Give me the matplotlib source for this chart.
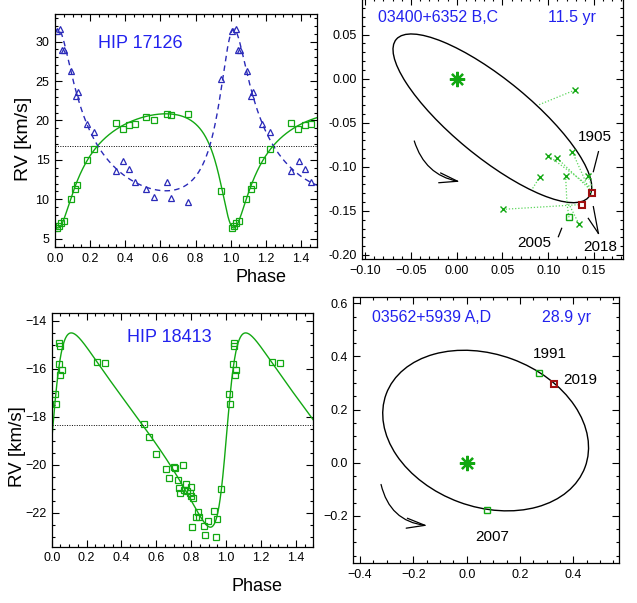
import numpy as np
import matplotlib
matplotlib.use('Agg')
import matplotlib.pyplot as plt
from matplotlib.patches import Ellipse, FancyArrowPatch
from matplotlib.ticker import MultipleLocator, FuncFormatter

plt.rcParams['font.family'] = ['Liberation Sans', 'DejaVu Sans']

# ---------------- HIP 17126 (double-lined) ----------------
hip1_phase_a = [0.01, 0.02, 0.033, 0.05, 0.089, 0.114, 0.127, 0.18, 0.223, 0.345,
                0.386, 0.424, 0.455, 0.519, 0.566, 0.64, 0.661, 0.758, 0.947]
hip1_rv_a = [6.4, 6.65, 6.95, 7.3, 10.0, 11.35, 11.8, 15.0, 16.4, 19.7,
             18.9, 19.4, 19.55, 20.4, 20.0, 20.8, 20.7, 20.8, 11.0]
hip1_phase_b = [0.01, 0.028, 0.04, 0.053, 0.091, 0.117, 0.129, 0.18, 0.223, 0.345,
                0.388, 0.424, 0.455, 0.519, 0.566, 0.64, 0.661, 0.758, 0.947]
hip1_rv_b = [31.4, 31.6, 28.95, 28.9, 26.25, 23.1, 23.6, 19.55, 18.5, 13.65,
             14.8, 13.9, 12.25, 11.3, 10.25, 12.15, 10.2, 9.6, 25.2]
hip1_V0 = 16.8
hip1_K1 = 7.24
hip1_K2 = 10.25
hip1_e = 0.47
hip1_omega = 160.0
hip1_T0 = 0.0

# ---------------- HIP 18413 (single-lined) ----------------
hip2_phase = [0.019, 0.023, 0.042, 0.044, 0.048, 0.050, 0.057, 0.262, 0.308, 0.530,
              0.560, 0.597, 0.654, 0.673, 0.702, 0.705, 0.723, 0.732, 0.738, 0.755,
              0.761, 0.769, 0.776, 0.792, 0.797, 0.801, 0.811, 0.803, 0.828, 0.837,
              0.843, 0.874, 0.878, 0.895, 0.933, 0.941, 0.948, 0.969]
hip2_rv = [-17.07, -17.49, -15.81, -14.94, -15.06, -16.26, -16.06, -15.72, -15.78, -18.31,
           -18.86, -19.56, -20.18, -20.57, -20.08, -20.15, -20.65, -20.99, -21.19, -20.0,
           -21.06, -20.82, -21.08, -21.19, -20.94, -21.29, -21.40, -22.61, -22.17, -21.96,
           -22.17, -22.57, -22.93, -22.35, -21.92, -23.0, -22.28, -21.03]
hip2_V0 = -18.35
hip2_K = 4.05
hip2_e = 0.49
hip2_omega = 264.0
hip2_T0 = 0.0

# ---------------- 03400+6352 B,C orbit ----------------
orb1_center = (0.039, -0.045)
orb1_axes = (0.276, 0.087)
orb1_angle = -40.6
orb1_obs_x = [0.1293, 0.1001, 0.1100, 0.1263, 0.1431, 0.1190, 0.0910, 0.0502, 0.1336]
orb1_obs_y = [-0.0129, -0.0874, -0.0904, -0.0829, -0.1100, -0.1100, -0.1112, -0.1483, -0.1649]
orb1_calc_x = [0.0892, 0.1457, 0.1462, 0.1475, 0.1485, 0.1205, 0.0819, 0.1330, 0.1225]
orb1_calc_y = [-0.0299, -0.1226, -0.1263, -0.1320, -0.1240, -0.1418, -0.1263, -0.1430, -0.1420]
orb1_sq_x = [0.1227]
orb1_sq_y = [-0.1573]
orb1_sq_calc_x = [0.1205]
orb1_sq_calc_y = [-0.1418]
orb1_red_x = [0.1482, 0.1366]
orb1_red_y = [-0.1294, -0.1434]
orb1_arrow_start = (-0.0463, -0.0707)
orb1_arrow_end = (0.0036, -0.1169)

# ---------------- 03562+5939 A,D orbit ----------------
orb2_center = (0.071, 0.121)
orb2_axes = (0.7946, 0.5742)
orb2_angle = -20.3
orb2_green_x = [0.2725, 0.076]
orb2_green_y = [0.339, -0.177]
orb2_red_x = [0.329]
orb2_red_y = [0.295]
orb2_arrow_start = (-0.321, -0.082)
orb2_arrow_end = (-0.1475, -0.237)

GREEN = '#12a812'
LGREEN = '#5cd65c'
BLUE_T = '#2222ee'
BLUE_D = '#2a2ab8'
RED = '#a01010'


def kepler_rv(phase, V0, K, e, omega_deg, T0):
    M = 2 * np.pi * (np.asarray(phase) - T0)
    E = M.copy()
    for _ in range(60):
        E = E - (E - e * np.sin(E) - M) / (1 - e * np.cos(E))
    nu = 2 * np.arctan2(np.sqrt(1 + e) * np.sin(E / 2), np.sqrt(1 - e) * np.cos(E / 2))
    w = np.radians(omega_deg)
    return V0 + K * (np.cos(nu + w) + e * np.cos(w))


def unfold(ph, v):
    ph = np.asarray(ph)
    v = np.asarray(v)
    m = ph + 1 <= 1.5
    return np.concatenate([ph, ph[m] + 1]), np.concatenate([v, v[m]])


def style(ax, xmaj, xmin, ymaj, ymin):
    ax.xaxis.set_major_locator(MultipleLocator(xmaj))
    ax.xaxis.set_minor_locator(MultipleLocator(xmin))
    ax.yaxis.set_major_locator(MultipleLocator(ymaj))
    ax.yaxis.set_minor_locator(MultipleLocator(ymin))
    ax.tick_params(which='both', direction='in', top=True, right=True,
                   labelsize=9, width=0.8, colors='black', pad=4)
    ax.tick_params(which='major', length=5)
    ax.tick_params(which='minor', length=2.5)
    for s in ax.spines.values():
        s.set_linewidth(0.9)


def fmt(decimals, minus='\u2212'):
    def f(v, pos):
        s = f'{v:.{decimals}f}'
        if s.startswith('-'):
            if float(s) == 0:
                s = s[1:]
            else:
                s = minus + s[1:]
        return s
    return FuncFormatter(f)


def curved_arrow(ax, start, end, rad):
    ax.add_patch(FancyArrowPatch(start, end, connectionstyle=f'arc3,rad={rad}',
                                 arrowstyle='->,head_length=1.1,head_width=0.3',
                                 mutation_scale=12, color='black', lw=0.9,
                                 shrinkA=0, shrinkB=0))


fig = plt.figure(figsize=(6.37, 6.03), dpi=100)

# ---------- Panel 1: HIP 17126 ----------
ax1 = fig.add_axes([55 / 637, 1 - 247 / 603, 261.7 / 637, 233 / 603])
grid = np.linspace(0, 1.5, 1200)
ax1.plot(grid, kepler_rv(grid, hip1_V0, hip1_K1, hip1_e, hip1_omega, hip1_T0),
         color=GREEN, lw=1.0)
ax1.plot(grid, kepler_rv(grid, hip1_V0, hip1_K2, hip1_e, hip1_omega + 180, hip1_T0),
         color=BLUE_D, lw=1.0, ls=(0, (4, 3)))
ax1.axhline(hip1_V0, color='black', lw=0.7, ls=(0, (1, 1.5)))
pa, va = unfold(hip1_phase_a, hip1_rv_a)
pb, vb = unfold(hip1_phase_b, hip1_rv_b)
ax1.plot(pa, va, 's', mfc='none', mec=GREEN, ms=5, mew=0.9)
ax1.plot(pb, vb, '^', mfc='none', mec=BLUE_D, ms=4.5, mew=0.9)
ax1.set_xlim(0, 1.49)
ax1.set_ylim(3.95, 33.5)
style(ax1, 0.2, 0.05, 5, 1)
ax1.xaxis.set_major_formatter(fmt(1))
ax1.yaxis.set_major_formatter(fmt(0))
ax1.text(0.325, 0.874, 'HIP 17126', transform=ax1.transAxes, color=BLUE_T,
         fontsize=13, ha='center', va='center')
fig.text(23 / 637, 1 - 139 / 603, 'RV [km/s]', rotation=90, fontsize=14,
         ha='center', va='center')
fig.text(260.7 / 637, 1 - 277 / 603, 'Phase', fontsize=13, ha='center', va='center')

# ---------- Panel 2: HIP 18413 ----------
ax2 = fig.add_axes([51.7 / 637, 1 - 546.7 / 603, 261.6 / 637, 233.4 / 603])
ax2.plot(grid, kepler_rv(grid, hip2_V0, hip2_K, hip2_e, hip2_omega, hip2_T0),
         color=GREEN, lw=1.0)
ax2.axhline(hip2_V0, color='black', lw=0.7, ls=(0, (1, 1.5)))
p2, v2 = unfold(hip2_phase, hip2_rv)
ax2.plot(p2, v2, 's', mfc='none', mec=GREEN, ms=5, mew=0.9)
ax2.set_xlim(0, 1.5)
ax2.set_ylim(-23.42, -13.69)
style(ax2, 0.2, 0.05, 2, 0.5)
ax2.xaxis.set_major_formatter(fmt(1))
ax2.yaxis.set_major_formatter(fmt(0))
ax2.text(0.4495, 0.897, 'HIP 18413', transform=ax2.transAxes, color=BLUE_T,
         fontsize=13, ha='center', va='center')
fig.text(17 / 637, 1 - 446.7 / 603, 'RV [km/s]', rotation=90, fontsize=13.5,
         ha='center', va='center')
fig.text(256.7 / 637, 1 - 586.7 / 603, 'Phase', fontsize=13, ha='center', va='center')

# ---------- Panel 3: 03400+6352 B,C ----------
ax3 = fig.add_axes([362 / 637, 1 - 259 / 603, 261 / 637, 261 / 603])
ax3.add_patch(Ellipse(orb1_center, orb1_axes[0], orb1_axes[1], angle=orb1_angle,
                      fill=False, ec='black', lw=1.0))
for ox, oy, cx, cy in zip(orb1_obs_x, orb1_obs_y, orb1_calc_x, orb1_calc_y):
    ax3.plot([ox, cx], [oy, cy], color=LGREEN, lw=0.9, ls=(0, (1, 1.5)))
for ox, oy, cx, cy in zip(orb1_sq_x, orb1_sq_y, orb1_sq_calc_x, orb1_sq_calc_y):
    ax3.plot([ox, cx], [oy, cy], color=LGREEN, lw=0.9, ls=(0, (1, 1.5)))
ax3.plot(orb1_obs_x, orb1_obs_y, 'x', color=GREEN, ms=4, mew=1.0)
ax3.plot(orb1_sq_x, orb1_sq_y, 's', mfc='none', mec=GREEN, ms=4.5, mew=1.0)
ax3.plot(orb1_red_x, orb1_red_y, 's', mfc='none', mec=RED, ms=5, mew=1.5)
ax3.plot([0], [0], marker=(8, 2, 0), color=GREEN, ms=11, mew=1.6)
curved_arrow(ax3, orb1_arrow_start, orb1_arrow_end, 0.3)
ax3.plot([0.1549, 0.1493], [-0.0828, -0.1055], color='black', lw=0.9)
ax3.plot([0.1548, 0.1493], [-0.1755, -0.1452], color='black', lw=0.9)
ax3.plot([0.1548, 0.1438], [-0.1755, -0.1585], color='black', lw=0.9)
ax3.plot([0.1147, 0.1111], [-0.1698, -0.1793], color='black', lw=0.9)
ax3.text(-0.020, 0.0696, '03400+6352 B,C', color=BLUE_T, fontsize=11.5,
         ha='center', va='center')
ax3.text(0.1264, 0.0696, '11.5 yr', color=BLUE_T, fontsize=11.5,
         ha='center', va='center')
ax3.text(0.1511, -0.0658, '1905', fontsize=11, ha='center', va='center')
ax3.text(0.0845, -0.1861, '2005', fontsize=11, ha='center', va='center')
ax3.text(0.1566, -0.1906, '2018', fontsize=11, ha='center', va='center')
ax3.set_xlim(-0.1034, 0.1817)
ax3.set_ylim(-0.2046, 0.0915)
style(ax3, 0.05, 0.01, 0.05, 0.01)
ax3.xaxis.set_major_formatter(fmt(2))
ax3.yaxis.set_major_formatter(fmt(2, '-'))

# ---------- Panel 4: 03562+5939 A,D ----------
ax4 = fig.add_axes([353.3 / 637, 1 - 563.3 / 603, 266 / 637, 266 / 603])
ax4.add_patch(Ellipse(orb2_center, orb2_axes[0], orb2_axes[1], angle=orb2_angle,
                      fill=False, ec='black', lw=1.0))
ax4.plot(orb2_green_x, orb2_green_y, 's', mfc='none', mec=GREEN, ms=4.5, mew=1.0)
ax4.plot(orb2_red_x, orb2_red_y, 's', mfc='none', mec=RED, ms=5, mew=1.5)
ax4.plot([0], [0], marker=(8, 2, 0), color=GREEN, ms=11, mew=1.6)
curved_arrow(ax4, orb2_arrow_start, orb2_arrow_end, 0.35)
ax4.text(-0.131, 0.546, '03562+5939 A,D', color=BLUE_T, fontsize=11.5,
         ha='center', va='center')
ax4.text(0.375, 0.546, '28.9 yr', color=BLUE_T, fontsize=11.5,
         ha='center', va='center')
ax4.text(0.31, 0.41, '1991', fontsize=11, ha='center', va='center')
ax4.text(0.4275, 0.31, '2019', fontsize=11, ha='center', va='center')
ax4.text(0.096, -0.28, '2007', fontsize=11, ha='center', va='center')
ax4.set_xlim(-0.425, 0.572)
ax4.set_ylim(-0.379, 0.623)
style(ax4, 0.2, 0.05, 0.2, 0.05)
ax4.xaxis.set_major_formatter(fmt(1))
ax4.yaxis.set_major_formatter(fmt(1))

fig.savefig('out.png', dpi=100)
